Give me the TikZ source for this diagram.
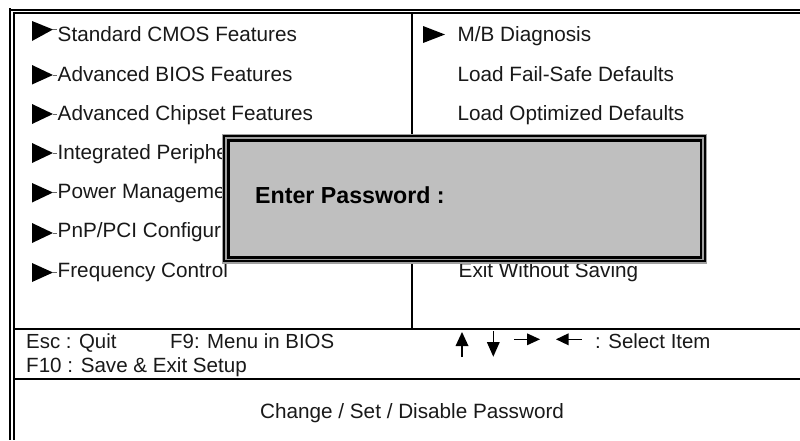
\documentclass[tikz,border=0pt]{standalone}
\usepackage{fontspec}
\setmainfont{Liberation Sans}
\definecolor{panelgray}{HTML}{BFBFBF}
\definecolor{bandgray}{HTML}{A0A0A0}
\definecolor{inkblack}{HTML}{000000}
\tikzset{
  label/.style={anchor=base west,inner sep=0pt,font=\fontsize{20.7}{24}\selectfont,text=black!90},
  statuslabel/.style={label,font=\fontsize{20.4}{24}\selectfont},
  rule/.style={draw=inkblack,line width=1.6pt},
  tri/.style={fill=inkblack,draw=none},
  whisker/.style={draw=black!60,line width=0.7pt},
  arrowshaft/.style={draw=inkblack,line width=1.2pt}
}
\newcommand{\menutri}[3]{%
  \fill[tri] (32,#1) -- (53,#2) -- (32,#3) -- cycle;
  \draw[whisker] (53,#2) -- (57,#2);
}
\begin{document}
\begin{tikzpicture}[x=1pt,y=-1pt]
\useasboundingbox[fill=white] (0,0) rectangle (800,440);
% frame
\draw[rule] (10,8) -- (10,440);
\draw[rule] (14,13) -- (14,440);
\draw[rule] (10,10) -- (800,10);
\draw[rule] (13.2,13) -- (800,13);
\coordinate (divtop) at (412,13);
\coordinate (divbot) at (412,328.7);
\draw[rule] (divtop) -- (divbot);
\draw[rule] (14,328.7) -- (800,328.7);
\draw[rule] (14,379) -- (800,379);
% left menu
\menutri{21}{29.5}{41}
\menutri{65}{75}{84.5}
\menutri{104}{114}{124}
\menutri{143}{153}{163}
\menutri{183}{192.5}{202.5}
\menutri{223}{233}{243}
\menutri{263}{272.5}{282}
\node[label] (m1) at (57.5,41.7) {Standard CMOS Features};
\node[label] (m2) at (57.5,81) {Advanced BIOS Features};
\node[label] (m3) at (57.5,120) {Advanced Chipset Features};
\node[label] (m4) at (57.5,159) {Integrated Periphe};
\node[label] (m5) at (57.5,198) {Power Manageme};
\node[label] (m6) at (57.5,237.7) {PnP/PCI Configur};
\node[label] (m7) at (57.5,277.7) {Frequency Control};
% right menu
\fill[tri] (423,26) -- (445,34.5) -- (423,43) -- cycle;
\node[label] (r1) at (457.5,41.7) {M/B Diagnosis};
\node[label] (r2) at (457.5,81) {Load Fail-Safe Defaults};
\node[label] (r3) at (457.5,120) {Load Optimized Defaults};
\node[label] (r4) at (458.5,277.7) {Exit Without Saving};
% dialog
\fill[bandgray] (222.2,134) rectangle (707,263.6);
\fill[inkblack] (223.4,135.2) rectangle (705.8,262.2);
\fill[bandgray] (225,137) rectangle (704.3,260.3);
\fill[inkblack] (227,139) rectangle (702.2,258.5);
\fill[panelgray] (229.7,141.5) rectangle (699.5,256);
\node[label,font=\bfseries\fontsize{23.2}{26}\selectfont,text=black] (pw) at (255,203) {Enter Password :};
% status area
\node[statuslabel] (s1) at (26,348) {Esc : Quit};
\node[statuslabel] (s2) at (170,348) {F9: Menu in BIOS};
\node[statuslabel,font=\fontsize{20.6}{24}\selectfont] (s3) at (26,372.7) {F10 : Save \& Exit Setup};
\node[statuslabel] (s4) at (595,348) {: Select Item};
\node[label] (s5) at (260,418) {Change / Set / Disable Password};
% key arrows
\draw[arrowshaft] (462,357) -- (462,345);
\fill[tri] (462,332) -- (468.5,346) -- (455.5,346) -- cycle;
\draw[arrowshaft] (493.3,331) -- (493.3,343);
\fill[tri] (493.3,356.7) -- (499.8,342) -- (486.8,342) -- cycle;
\draw[arrowshaft] (514,339.3) -- (528,339.3);
\fill[tri] (540,339.3) -- (527,333.3) -- (527,345.3) -- cycle;
\draw[arrowshaft] (581.7,339.3) -- (567,339.3);
\fill[tri] (556,339.3) -- (568.5,333.3) -- (568.5,345.3) -- cycle;
\end{tikzpicture}
\end{document}
